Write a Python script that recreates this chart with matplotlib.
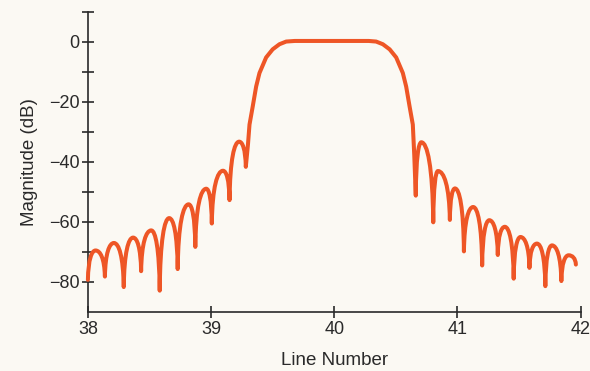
import matplotlib
matplotlib.use("Agg")
import matplotlib.pyplot as plt
from matplotlib.path import Path
from matplotlib.patches import PathPatch

# ---- data ----
start_pt = (38.0, -79.4)
left_peaks_x = [38.062, 38.211, 38.367, 38.514, 38.660, 38.818, 38.961, 39.097, 39.228]
left_peaks_y = [-69.6, -67.1, -65.3, -62.9, -58.8, -54.2, -49.0, -43.0, -33.3]
left_nulls_x = [38.138, 38.291, 38.432, 38.583, 38.729, 38.872, 39.006, 39.150, 39.282]
left_nulls_y = [-78.3, -81.8, -76.5, -83.0, -75.8, -68.4, -60.6, -52.8, -41.7]

main_x = [39.300, 39.312, 39.338, 39.366, 39.393, 39.420, 39.447, 39.500, 39.555,
          39.610, 39.680, 40.280, 40.340, 40.395, 40.450, 40.503, 40.530, 40.557,
          40.584, 40.612, 40.638, 40.650]
main_y = [-34.0, -27.6, -21.6, -14.9, -10.4, -7.8, -5.2, -2.5, -0.8,
          0.1, 0.3, 0.3, 0.1, -0.8, -2.5, -5.2, -7.8, -10.4,
          -14.9, -21.6, -27.6, -38.0]

right_nulls_x = [40.662, 40.804, 40.939, 41.053, 41.201, 41.328, 41.457, 41.585, 41.714, 41.844]
right_nulls_y = [-51.3, -60.2, -59.4, -69.9, -74.6, -71.1, -79.0, -75.4, -81.5, -79.8]
right_peaks_x = [40.707, 40.842, 40.980, 41.128, 41.259, 41.385, 41.512, 41.646, 41.768, 41.903]
right_peaks_y = [-33.5, -43.1, -48.9, -55.1, -59.5, -61.7, -65.1, -67.3, -67.9, -71.2]
end_pt = (41.962, -74.3)

x_ticks = [38, 39, 40, 41, 42]
y_ticks = [10, 0, -10, -20, -30, -40, -50, -60, -70, -80]
y_labels = {0: "0", -20: "\u221220", -40: "\u221240", -60: "\u221260", -80: "\u221280"}

# ---- style ----
bg = "#FBF9F3"
line_color = "#EE5626"
ink = "#2a2a2a"
plt.rcParams["font.family"] = ["Liberation Sans", "DejaVu Sans"]

fig = plt.figure(figsize=(5.9, 3.71), dpi=100)
fig.patch.set_facecolor(bg)
ax = fig.add_axes([0.149, 0.16, 0.835, 0.808])
ax.set_facecolor(bg)

# build node sequence: kind 'n' null-like, 'p' peak, 'l' polyline point
nodes = [(start_pt[0], start_pt[1], "n")]
for px, py, nx, ny in zip(left_peaks_x, left_peaks_y, left_nulls_x, left_nulls_y):
    nodes.append((px, py, "p"))
    nodes.append((nx, ny, "n"))
for mx, my in zip(main_x, main_y):
    nodes.append((mx, my, "l"))
for nx, ny, px, py in zip(right_nulls_x, right_nulls_y, right_peaks_x, right_peaks_y):
    nodes.append((nx, ny, "n"))
    nodes.append((px, py, "p"))
nodes.append((end_pt[0], end_pt[1], "n"))

verts = [(nodes[0][0], nodes[0][1])]
codes = [Path.MOVETO]
for prev, cur in zip(nodes[:-1], nodes[1:]):
    (xa, ya, ka), (xb, yb, kb) = prev, cur
    if ka == "n" and kb == "p":
        dx = xb - xa
        h = yb - ya
        verts += [(xa + 0.05 * dx, ya + 0.7 * h), (xb - 0.5 * dx, yb), (xb, yb)]
        codes += [Path.CURVE4] * 3
    elif ka == "p" and kb == "n":
        dx = xb - xa
        h = ya - yb
        verts += [(xa + 0.5 * dx, ya), (xb - 0.05 * dx, yb + 0.7 * h), (xb, yb)]
        codes += [Path.CURVE4] * 3
    else:
        verts.append((xb, yb))
        codes.append(Path.LINETO)

patch = PathPatch(Path(verts, codes), facecolor="none", edgecolor=line_color,
                  lw=2.9, capstyle="round", joinstyle="round",
                  transform=ax.transData, clip_on=False, zorder=3)
ax.add_patch(patch)

ax.set_xlim(38, 42)
ax.set_ylim(-90, 10)

for s in ["top", "right"]:
    ax.spines[s].set_visible(False)
for s in ["left", "bottom"]:
    ax.spines[s].set_color(ink)
    ax.spines[s].set_linewidth(1.2)

ax.set_xticks(x_ticks)
ax.set_xticklabels([str(t) for t in x_ticks])
ax.set_yticks(y_ticks)
ax.set_yticklabels([y_labels.get(t, "") for t in y_ticks])
ax.tick_params(axis="both", direction="inout", length=8, width=1.2, color=ink,
               labelsize=13, labelcolor=ink)
ax.tick_params(axis="y", pad=2)
ax.tick_params(axis="x", pad=3)

ax.set_xlabel("Line Number", fontsize=13.5, color=ink, labelpad=10)
ax.set_ylabel("Magnitude (dB)", fontsize=13.5, color=ink, labelpad=8)

fig.savefig("out.png", dpi=100, facecolor=bg)
